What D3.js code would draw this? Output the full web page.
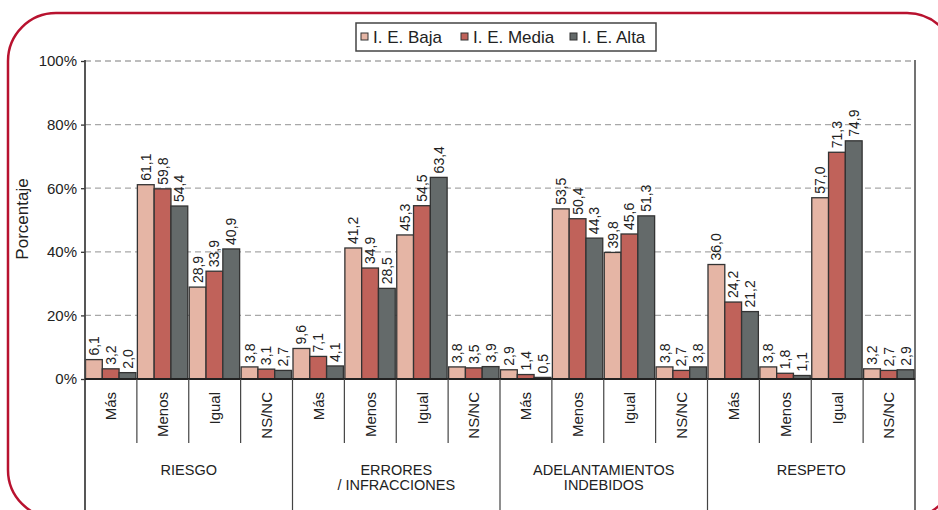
<!DOCTYPE html>
<html>
<head>
<meta charset="utf-8">
<script src="https://cdn.jsdelivr.net/npm/d3@7"></script>
<style>
  html, body { margin: 0; padding: 0; background: #fff; }
  svg { display: block; font-family: "Liberation Sans", Arial, Helvetica, sans-serif; }
</style>
</head>
<body>
<svg id="chart" width="938" height="510"></svg>
<script>
// ---- Data ----
const groups = ["RIESGO", "ERRORES\n/ INFRACCIONES", "ADELANTAMIENTOS\nINDEBIDOS", "RESPETO"];
const subCategories = ["Más", "Menos", "Igual", "NS/NC"];
const seriesNames = ["I. E. Baja", "I. E. Media", "I. E. Alta"];
const baja  = [6.1, 61.1, 28.9, 3.8,  9.6, 41.2, 45.3, 3.8,  2.9, 53.5, 39.8, 3.8,  36.0, 3.8, 57.0, 3.2];
const media = [3.2, 59.8, 33.9, 3.1,  7.1, 34.9, 54.5, 3.5,  1.4, 50.4, 45.6, 2.7,  24.2, 1.8, 71.3, 2.7];
const alta  = [2.0, 54.4, 40.9, 2.7,  4.1, 28.5, 63.4, 3.9,  0.5, 44.3, 51.3, 3.8,  21.2, 1.1, 74.9, 2.9];
const yTicks = [0, 20, 40, 60, 80, 100];
const yTitle = "Porcentaje";

const colors = ["#e5b5a5", "#c0625a", "#646a6a"];
const seriesValues = [baja, media, alta];

// ---- Layout ----
const svg = d3.select("#chart");
const pLeft = 85, pRight = 915, pTop = 61, pBottom = 379;
const nCats = groups.length * subCategories.length;

const x = d3.scaleBand().domain(d3.range(nCats)).range([pLeft, pRight]).padding(0);
const y = d3.scaleLinear().domain([0, 100]).range([pBottom, pTop]);
const step = x.bandwidth();
const bw = (step - 1.5) / 3;

// outer red rounded frame
svg.append("rect")
  .attr("x", 8).attr("y", 13).attr("width", 947).attr("height", 505)
  .attr("rx", 48).attr("ry", 48)
  .attr("fill", "none").attr("stroke", "#b8122f").attr("stroke-width", 2.5);

// gridlines
svg.append("g").selectAll("line")
  .data(yTicks.filter(d => d > 0))
  .join("line")
  .attr("x1", pLeft).attr("x2", pRight)
  .attr("y1", d => y(d)).attr("y2", d => y(d))
  .attr("stroke", "#a8a8a8").attr("stroke-width", 1.3)
  .attr("stroke-dasharray", "6,4");

// bars
const barData = [];
seriesValues.forEach((arr, s) => arr.forEach((v, i) => barData.push({ s, i, v })));

svg.append("g").selectAll("rect")
  .data(barData)
  .join("rect")
  .attr("x", d => x(d.i) + 0.5 + d.s * bw)
  .attr("y", d => y(d.v))
  .attr("width", bw)
  .attr("height", d => y(0) - y(d.v))
  .attr("fill", d => colors[d.s])
  .attr("stroke", "#333")
  .attr("stroke-width", 1.3);

// value labels
const fmt = d3.format(".1f");
svg.append("g").selectAll("text")
  .data(barData)
  .join("text")
  .attr("transform", d => {
    const cx = x(d.i) + 0.5 + d.s * bw + bw / 2;
    const cy = y(d.v) - 4;
    return `translate(${cx},${cy}) rotate(-90)`;
  })
  .attr("dy", "0.36em")
  .attr("text-anchor", "start")
  .attr("font-size", 14)
  .attr("fill", "#222")
  .text(d => fmt(d.v).replace(".", ","));

// y axis
const yAxis = svg.append("g")
  .attr("transform", `translate(${pLeft},0)`)
  .call(d3.axisLeft(y).tickValues(yTicks).tickFormat(d => d + "%").tickSize(4).tickPadding(4));
yAxis.select(".domain").remove();
yAxis.selectAll(".tick line").attr("stroke", "#333").attr("stroke-width", 1.3);
yAxis.selectAll(".tick text").attr("font-size", 15).attr("fill", "#222")
  .attr("font-family", "'Liberation Sans', Arial, sans-serif");

// left & right vertical lines
svg.append("line").attr("x1", pLeft).attr("x2", pLeft).attr("y1", pTop - 1).attr("y2", 510)
  .attr("stroke", "#444").attr("stroke-width", 1.8);
svg.append("line").attr("x1", pRight).attr("x2", pRight).attr("y1", pTop - 1).attr("y2", 510)
  .attr("stroke", "#444").attr("stroke-width", 1.5);

// baseline
svg.append("line").attr("x1", pLeft).attr("x2", pRight).attr("y1", pBottom).attr("y2", pBottom)
  .attr("stroke", "#222").attr("stroke-width", 2.2);

// category separators
svg.append("g").selectAll("line")
  .data(d3.range(1, nCats))
  .join("line")
  .attr("x1", d => x(d)).attr("x2", d => x(d))
  .attr("y1", pBottom)
  .attr("y2", d => (d % subCategories.length === 0) ? 510 : 443)
  .attr("stroke", "#444").attr("stroke-width", 1.2);

// sub-category labels
svg.append("g").selectAll("text")
  .data(d3.range(nCats))
  .join("text")
  .attr("transform", d => `translate(${x(d) + step / 2},392) rotate(-90)`)
  .attr("dy", "0.36em")
  .attr("text-anchor", "end")
  .attr("font-size", 15)
  .attr("fill", "#222")
  .text(d => subCategories[d % subCategories.length]);

// group labels
const gLab = svg.append("g").selectAll("text")
  .data(groups)
  .join("text")
  .attr("x", (d, g) => x(g * subCategories.length) + step * subCategories.length / 2)
  .attr("y", 475)
  .attr("text-anchor", "middle")
  .attr("font-size", 14.5)
  .attr("fill", "#222");
gLab.each(function(d) {
  const t = d3.select(this);
  const cx = t.attr("x");
  d.split("\n").forEach((line, k) => {
    t.append("tspan").attr("x", cx).attr("dy", k === 0 ? 0 : 14.5).text(line);
  });
});

// y title
svg.append("text")
  .attr("transform", "translate(28,219) rotate(-90)")
  .attr("text-anchor", "middle")
  .attr("font-size", 17)
  .attr("fill", "#222")
  .text(yTitle);

// legend
const leg = svg.append("g");
leg.append("rect").attr("x", 356).attr("y", 23).attr("width", 300).attr("height", 28)
  .attr("fill", "#fff").attr("stroke", "#444").attr("stroke-width", 1.5);
const legX = [361, 461, 570];
seriesNames.forEach((name, s) => {
  leg.append("rect").attr("x", legX[s]).attr("y", 33).attr("width", 7).attr("height", 7)
    .attr("fill", colors[s]).attr("stroke", "#333").attr("stroke-width", 1);
  leg.append("text").attr("x", legX[s] + 12).attr("y", 43)
    .attr("font-size", 17).attr("fill", "#222").text(name);
});
</script>
</body>
</html>
